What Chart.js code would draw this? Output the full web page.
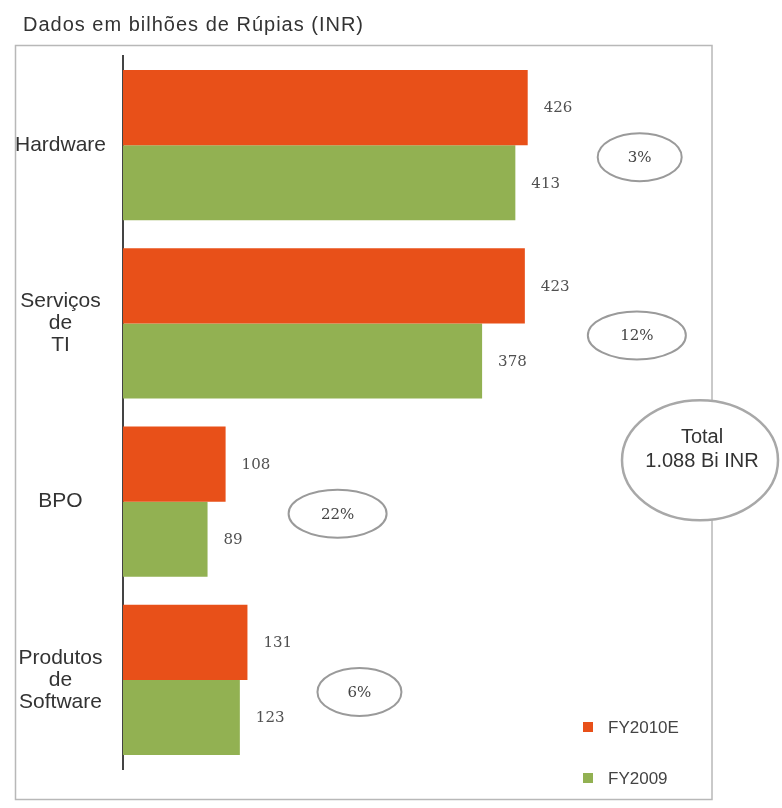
<!DOCTYPE html>
<html lang="pt-BR">
<head>
<meta charset="utf-8">
<title>Dados em bilhões de Rúpias (INR)</title>
<script src="https://cdn.jsdelivr.net/npm/chart.js@4/dist/chart.umd.min.js"></script>
<style>
  html, body { margin: 0; padding: 0; background: #ffffff; }
  canvas { display: block; }
</style>
</head>
<body>
<canvas id="chart" width="782" height="808"></canvas>
<script>
// Segment labels (multi-line where the label wraps)
const categories = ['Hardware', ['Serviços', 'de', 'TI'], 'BPO', ['Produtos', 'de', 'Software']];
// Revenue per segment, billions of INR
const fy2010e = [426, 423, 108, 131];
const fy2009 = [413, 378, 89, 123];
// Year-over-year growth shown next to each segment
const growthLabels = ['3%', '12%', '22%', '6%'];
const seriesNames = ['FY2010E', 'FY2009'];
const titleText = 'Dados em bilhões de Rúpias (INR)';

const ORANGE = '#E85019';
const GREEN = '#92B152';

function thousands(n) {
  return String(n).replace(/\B(?=(\d{3})+(?!\d))/g, '.');
}

function ellipse(ctx, cx, cy, rx, ry, fill, stroke, lw) {
  ctx.beginPath();
  ctx.ellipse(cx, cy, rx, ry, 0, 0, Math.PI * 2);
  if (fill) { ctx.fillStyle = fill; ctx.fill(); }
  ctx.lineWidth = lw;
  ctx.strokeStyle = stroke;
  ctx.stroke();
}

const decorations = {
  id: 'decorations',
  beforeDraw(chart) {
    const ctx = chart.ctx;
    ctx.save();
    ctx.fillStyle = '#ffffff';
    ctx.fillRect(0, 0, chart.width, chart.height);
    // frame around the plot
    ctx.strokeStyle = '#b8b8b8';
    ctx.lineWidth = 1.5;
    ctx.strokeRect(15.5, 45.5, chart.chartArea.right - 15.5, 754);
    // heading
    ctx.fillStyle = '#333333';
    ctx.font = '20px "Liberation Sans", Arial, sans-serif';
    ctx.textBaseline = 'middle';
    ctx.textAlign = 'left';
    ctx.letterSpacing = '1px';
    ctx.fillText(titleText, 23, 25);
    ctx.restore();
  },
  afterDraw(chart) {
    const ctx = chart.ctx;
    const xs = chart.scales.x;
    const ys = chart.scales.y;
    const area = chart.chartArea;
    ctx.save();

    // value labels at the end of each bar
    ctx.font = '15px "DejaVu Serif", serif';
    ctx.fillStyle = '#505050';
    ctx.textAlign = 'left';
    ctx.textBaseline = 'middle';
    chart.data.datasets.forEach((ds, di) => {
      chart.getDatasetMeta(di).data.forEach((bar, i) => {
        ctx.fillText(String(ds.data[i]), bar.x + 16, bar.y + 1);
      });
    });

    // growth ellipses
    growthLabels.forEach((txt, i) => {
      const maxV = Math.max(fy2010e[i], fy2009[i]);
      const cx = xs.getPixelForValue(maxV) + 112;
      const cy = ys.getPixelForValue(i) + 12;
      const rx = 28 + 7 * txt.length;
      ellipse(ctx, cx, cy, rx, 24, null, '#9a9a9a', 2);
      ctx.font = '15px "DejaVu Serif", serif';
      ctx.fillStyle = '#444444';
      ctx.textAlign = 'center';
      ctx.fillText(txt, cx, cy + 1);
    });

    // total bubble
    const total = fy2010e.reduce((a, b) => a + b, 0);
    const tx = area.right - 12;
    const ty = area.top + (area.bottom - area.top) * 0.567;
    ellipse(ctx, tx, ty, 78, 60, '#ffffff', '#a8a8a8', 2.5);
    ctx.font = '20px "Liberation Sans", Arial, sans-serif';
    ctx.fillStyle = '#333333';
    ctx.textAlign = 'center';
    ctx.fillText('Total', tx + 2, ty - 23);
    ctx.fillText(thousands(total) + ' Bi INR', tx + 2, ty + 1);

    // legend
    const lx = area.right - 129;
    const items = [[seriesNames[0], ORANGE, area.bottom - 42], [seriesNames[1], GREEN, area.bottom + 9]];
    ctx.font = '17px "Liberation Sans", Arial, sans-serif';
    ctx.textAlign = 'left';
    items.forEach(([name, color, y]) => {
      ctx.fillStyle = color;
      ctx.fillRect(lx, y - 5, 10, 10);
      ctx.fillStyle = '#444444';
      ctx.fillText(name, lx + 25, y + 1);
    });
    ctx.restore();
  }
};

new Chart(document.getElementById('chart'), {
  type: 'bar',
  data: {
    labels: categories,
    datasets: [
      { label: seriesNames[0], data: fy2010e, backgroundColor: ORANGE, borderWidth: 0 },
      { label: seriesNames[1], data: fy2009, backgroundColor: GREEN, borderWidth: 0 }
    ]
  },
  options: {
    indexAxis: 'y',
    responsive: false,
    devicePixelRatio: 1,
    animation: false,
    categoryPercentage: 0.842,
    barPercentage: 1.0,
    layout: { padding: { left: 15, top: 56, right: 70, bottom: 39 } },
    plugins: {
      legend: { display: false },
      tooltip: { enabled: false },
      title: { display: false }
    },
    scales: {
      x: {
        display: false,
        min: 0,
        max: 620
      },
      y: {
        grid: { display: false, drawTicks: false },
        border: { display: true, color: '#444444', width: 2 },
        ticks: {
          crossAlign: 'center',
          padding: 17,
          color: '#333333',
          font: { family: '"Liberation Sans", Arial, sans-serif', size: 21, lineHeight: 1.05 }
        },
        afterFit(scale) { scale.width = 108; }
      }
    }
  },
  plugins: [decorations]
});
</script>
</body>
</html>
